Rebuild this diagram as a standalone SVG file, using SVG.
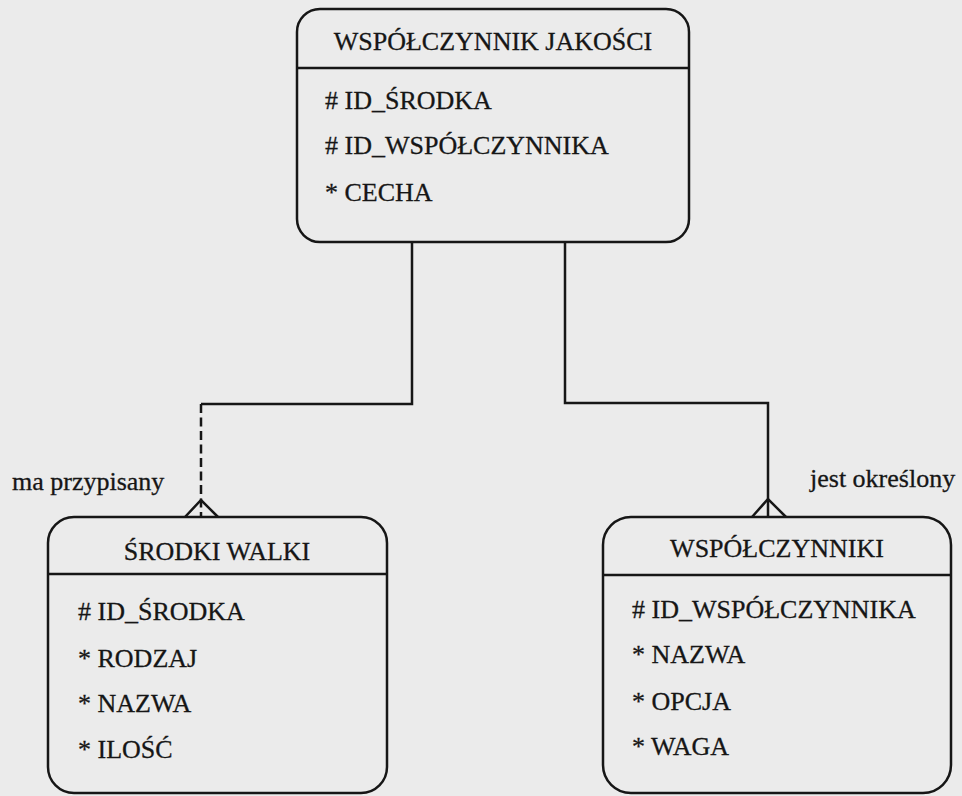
<svg xmlns="http://www.w3.org/2000/svg" width="962" height="796" viewBox="0 0 962 796">
<style>
.bg{fill:#ebebeb}
.box{fill:none;stroke:#161616;stroke-width:2.5}
.ln{fill:none;stroke:#161616;stroke-width:2.5}
.dash{fill:none;stroke:#161616;stroke-width:2.5;stroke-dasharray:9 4.5}
.tx{font-family:'Liberation Serif','Tinos','Times New Roman','DejaVu Serif',serif;font-size:26px;fill:#161616;stroke:#161616;stroke-width:0.3}
.t{text-anchor:middle}
</style>
<rect class="bg" x="0" y="0" width="962" height="796"/>
<g id="connectors">
<polyline class="ln" points="412,242 412,404 201,404"/>
<line class="dash" x1="201" y1="404" x2="201" y2="517"/>
<polyline class="ln" points="185,517 201,500 218,517"/>
<polyline class="ln" points="565,242 565,403 768,403 768,517"/>
<polyline class="ln" points="752,517 768,499 786,517"/>
<text class="tx" x="12" y="490">ma przypisany</text>
<text class="tx" x="810" y="487">jest określony</text>
</g>
<g id="wspolczynnik-jakosci">
<rect class="box" x="297" y="9" width="392" height="233" rx="23"/>
<line class="ln" x1="297" y1="68" x2="689" y2="68"/>
<text class="tx t" x="493" y="50">WSPÓŁCZYNNIK JAKOŚCI</text>
<text class="tx" x="325" y="109"># ID_ŚRODKA</text>
<text class="tx" x="325" y="154"># ID_WSPÓŁCZYNNIKA</text>
<text class="tx" x="325" y="201">* CECHA</text>
</g>
<g id="srodki-walki">
<rect class="box" x="48" y="517" width="339" height="276" rx="26"/>
<line class="ln" x1="48" y1="574" x2="387" y2="574"/>
<text class="tx t" x="217" y="560">ŚRODKI WALKI</text>
<text class="tx" x="78" y="620"># ID_ŚRODKA</text>
<text class="tx" x="78" y="667">* RODZAJ</text>
<text class="tx" x="78" y="712">* NAZWA</text>
<text class="tx" x="78" y="758">* ILOŚĆ</text>
</g>
<g id="wspolczynniki">
<rect class="box" x="603" y="517" width="348" height="276" rx="28"/>
<line class="ln" x1="603" y1="575" x2="951" y2="575"/>
<text class="tx t" x="777" y="557">WSPÓŁCZYNNIKI</text>
<text class="tx" x="632" y="618"># ID_WSPÓŁCZYNNIKA</text>
<text class="tx" x="632" y="663">* NAZWA</text>
<text class="tx" x="632" y="710">* OPCJA</text>
<text class="tx" x="632" y="755">* WAGA</text>
</g>
</svg>
